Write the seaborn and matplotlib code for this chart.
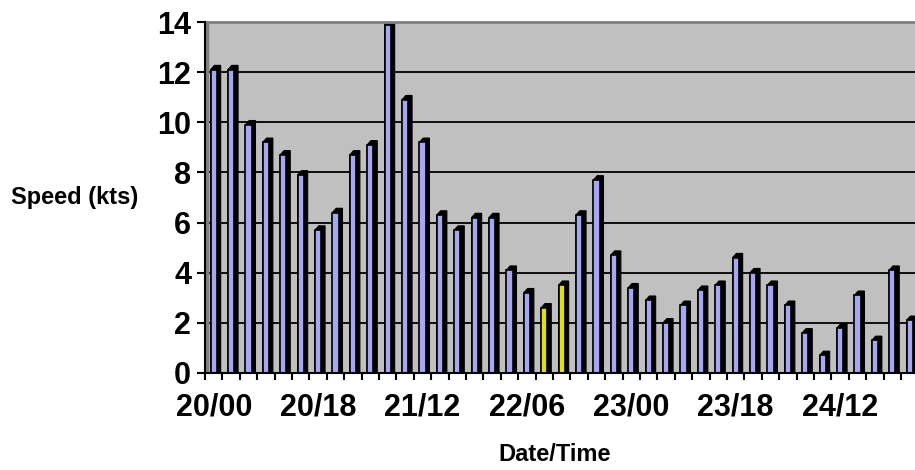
import numpy as np
import pandas as pd
import matplotlib
matplotlib.use("Agg")
import matplotlib.pyplot as plt
from matplotlib.patches import Polygon
import seaborn as sns

# wind speed every 3 hours, from 20/00
speeds = [12.1, 12.1, 9.9, 9.2, 8.7, 7.9, 5.7, 6.4, 8.7, 9.1,
          13.9, 10.9, 9.2, 6.3, 5.7, 6.2, 6.2, 4.1, 3.2, 2.6,
          3.5, 6.3, 7.7, 4.7, 3.4, 2.9, 2.0, 2.7, 3.3, 3.5,
          4.6, 4.0, 3.5, 2.7, 1.6, 0.7, 1.8, 3.1, 1.3, 4.1,
          2.1]
highlight = [19, 20]
tick_labels = ["20/00", "20/18", "21/12", "22/06", "23/00", "23/18", "24/12"]
y_ticks = [0, 2, 4, 6, 8, 10, 12, 14]

times = pd.date_range("2000-01-20 00:00", periods=len(speeds), freq="3h")
cats = [t.strftime("%d/%H") for t in times]

colors = ["#FFFF00" if i in highlight else "#9999FF" for i in range(len(speeds))]

df = pd.DataFrame({"time": cats, "speed": speeds})

plt.rcParams["font.family"] = ["Liberation Sans", "DejaVu Sans"]
plt.rcParams["font.weight"] = "bold"

fig = plt.figure(figsize=(9.15, 4.7), dpi=100)
ax = fig.add_axes([205 / 915, 1 - 373 / 470, 1 - 205 / 915, (373 - 22) / 470])

sns.barplot(
    data=df,
    x="time",
    y="speed",
    hue="time",
    palette=colors,
    legend=False,
    width=0.36,
    edgecolor="black",
    linewidth=1.2,
    ax=ax
)

# fake 3D depth: dark side and top behind each bar
dx, dy = 0.22, 0.17
for p in list(ax.patches):
    p.set_zorder(3)
    x0, w, h = p.get_x(), p.get_width(), p.get_height()
    ax.add_patch(Polygon([(x0, h), (x0 + dx, h + dy), (x0 + w + dx, h + dy),
                          (x0 + w + dx, 0), (x0, 0)],
                         closed=True, facecolor="black", edgecolor="black",
                         linewidth=0.8, zorder=2.5))

ax.set_facecolor("#C0C0C0")
ax.set_ylim(0, 14)
ax.set_xlim(-0.5, -0.5 + 710 / 17.4)
ax.axvline(-0.38, color="#808080", linewidth=2.5, zorder=1)

ax.set_yticks(y_ticks)
ax.tick_params(axis="y", labelsize=22, length=6, width=1.5, pad=4)
ax.yaxis.grid(True, color="black", linewidth=1.3, zorder=0)
ax.set_axisbelow(True)

# labels under chosen categories
pos = [cats.index(l) for l in tick_labels]
ax.set_xticks(pos)
ax.set_xticklabels(tick_labels)
ax.tick_params(axis="x", labelsize=22, length=0, pad=14)

# tick marks between categories
ax.vlines(np.arange(len(speeds) + 1) - 0.5, -0.02, 0, color="black",
          linewidth=1.5, transform=ax.get_xaxis_transform(), clip_on=False)

for s in ["left", "bottom"]:
    ax.spines[s].set_color("black")
    ax.spines[s].set_linewidth(1.5)
    ax.spines[s].set_zorder(4)
ax.spines["top"].set_color("#808080")
ax.spines["top"].set_linewidth(2)
ax.spines["right"].set_visible(False)

ax.set_ylabel("Speed (kts)", fontsize=17, fontweight="bold", rotation=0,
              ha="center", va="center")
ax.yaxis.set_label_coords(-0.183, 0.5)
ax.set_xlabel("Date/Time", fontsize=17, fontweight="bold")
ax.xaxis.set_label_coords(0.493, -0.2)

plt.savefig("out.png", dpi=100)
plt.close()
